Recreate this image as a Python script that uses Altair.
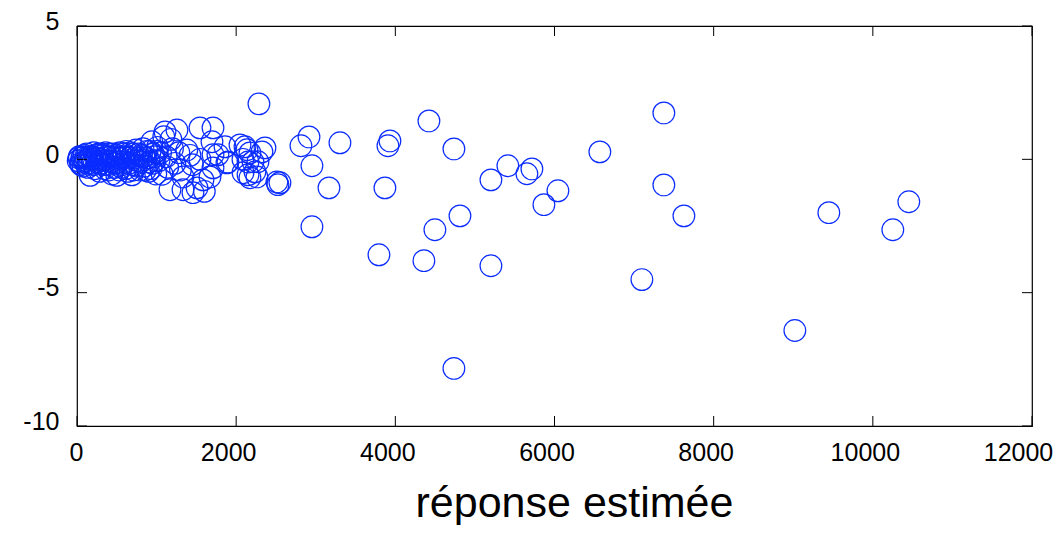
import altair as alt
import pandas as pd

# near-origin cluster (read from the dense blob near x = 0)
cx = [15, 30, 45, 60, 75, 90, 105, 120, 135, 150, 165, 180, 195, 210, 225, 240, 255, 270, 285, 300,
      320, 340, 360, 380, 400, 420, 440, 460, 480, 500, 520, 540, 560, 580, 600, 620, 640, 660, 690, 700,
      720, 740, 760, 790, 810, 830, 850, 870, 900, 920, 940, 950, 970, 990, 1010, 1030, 1050, 1070, 1090, 1120,
      1140, 1180, 1200, 1230, 1280, 1300, 1380, 1420, 1450,
      25, 50, 70, 95, 115, 140, 160, 190, 215, 235, 260, 290, 310, 330, 350, 370, 390, 410, 430, 450,
      470, 490, 510, 530, 550, 570, 590, 610, 630, 650, 670, 710, 730, 750, 770, 800, 840, 860, 880, 910,
      930, 960, 980, 1000]
cy = [-0.05, 0.10, -0.15, 0.05, -0.25, 0.15, -0.05, 0.20, -0.30, 0.00, -0.60, 0.10, -0.15, 0.25, -0.35, 0.05, -0.10, 0.20, -0.45, 0.00,
      0.15, -0.20, 0.25, -0.05, -0.40, 0.10, -0.55, 0.20, -0.15, -0.60, 0.05, 0.25, -0.30, 0.10, -0.10, 0.30, -0.45, 0.05, -0.58, 0.20,
      -0.20, 0.35, -0.05, -0.40, 0.15, 0.40, -0.25, 0.05, -0.45, 0.30, 0.66, -0.15, 0.10, -0.55, 0.45, -0.05, 0.25, -0.56, 0.85, 0.10,
      -0.30, 0.75, 0.40, -0.15, 0.25, -0.40, 0.35, 0.15, -0.20,
      0.05, -0.20, 0.10, -0.10, 0.05, -0.15, 0.10, 0.00, -0.20, 0.15, 0.05, -0.15, 0.20, -0.05, -0.35, 0.10, -0.20, 0.20, -0.10, 0.05,
      -0.30, 0.15, -0.10, -0.40, 0.05, -0.20, 0.20, -0.35, 0.10, -0.15, 0.25, -0.40, 0.05, -0.25, 0.20, -0.10, 0.10, -0.40, 0.30, -0.10,
      -0.35, 0.20, -0.05, 0.30]

# 1100 - 2600
mx = [1106, 1256, 1545, 1709, 1696, 1860, 2111, 1709, 1545, 1884, 1709, 2086, 1332, 1583, 1671, 1332, 1508, 1457,
      1168, 1600, 2136, 2324, 2362, 1897, 2149, 2149, 2274, 2236, 2512, 2525, 2550, 1771, 2048, 2173, 2085, 2211,
      2261, 2173, 2286]
my = [1.03, 1.10, 1.18, 1.18, 0.66, 0.47, 0.47, 0.17, 0.00, -0.13, -0.32, -0.50, -0.66, -0.77, -0.66, -1.14, -1.07, -1.25,
      -1.14, -1.20, 0.36, 0.28, 0.43, -0.10, -0.10, -0.58, -0.09, -0.47, -0.85, -0.95, -0.88, 0.17, 0.54, 0.24, 0.00, -0.09,
      -0.66, -0.69, 2.08]

# beyond 2600
ox = [2915, 2814, 2952, 3166, 2952, 3304, 3932, 3907, 4422, 4736, 5414, 5201, 5716, 5653, 6043, 5867, 6570,
      7374, 7374, 7626, 7098, 3869, 4812, 4497, 3794, 4359, 5201, 4736, 9020, 9447, 10251, 10452]
oy = [0.84, 0.51, -0.24, -1.07, -2.53, 0.62, 0.69, 0.51, 1.44, 0.39, -0.24, -0.77, -0.36, -0.54, -1.18, -1.70, 0.28,
      1.74, -0.96, -2.12, -4.51, -1.07, -2.12, -2.64, -3.58, -3.80, -3.99, -7.84, -6.42, -2.00, -2.64, -1.59]

xticks = [0, 2000, 4000, 6000, 8000, 10000, 12000]
yticks = [-10, -5, 0, 5]

W, H = 955, 400

df = pd.DataFrame({"x": cx + mx + ox, "y": cy + my + oy})
xt = pd.DataFrame({"v": xticks})
yt = pd.DataFrame({"v": yticks})

xscale = alt.Scale(domain=[0, 12000], nice=False, zero=False)
yscale = alt.Scale(domain=[-10, 5], nice=False, zero=False)
FONT = "Liberation Sans"

xaxis = alt.Axis(
    values=xticks, grid=False, ticks=False, tickSize=0, domain=False,
    labelFont=FONT, labelFontSize=25, labelColor="black", labelFlush=False,
    labelBaseline="alphabetic", labelPadding=34,
    labelOffset={"condition": [{"test": "datum.value == 0", "value": -1},
                               {"test": "datum.value == 12000", "value": -14}],
                 "value": -8},
    labelExpr="'' + datum.value",
    title="réponse estimée", titleFont=FONT, titleFontSize=43, titleFontWeight="normal",
    titleColor="black", titleBaseline="alphabetic", titleY=90, titleX=497)
yaxis = alt.Axis(
    values=yticks, grid=False, ticks=False, tickSize=0, domain=False,
    labelFont=FONT, labelFontSize=25, labelColor="black",
    labelBaseline="alphabetic", labelPadding=18, labelOffset=3, labelFlush=False,
    labelExpr="'' + datum.value", title=None)

points = alt.Chart(df).mark_point(
    shape="circle", size=470, filled=False, color="#0a2cff", strokeWidth=1.2, opacity=1, clip=False
).encode(
    x=alt.X("x:Q", scale=xscale, axis=xaxis),
    y=alt.Y("y:Q", scale=yscale, axis=yaxis),
)

tick_style = dict(color="black", strokeWidth=1)
bottom = alt.Chart(xt).mark_rule(**tick_style).encode(
    x=alt.X("v:Q", scale=xscale, axis=xaxis), y=alt.value(H), y2=alt.value(H - 10))
top = alt.Chart(xt).mark_rule(**tick_style).encode(
    x=alt.X("v:Q", scale=xscale, axis=xaxis), y=alt.value(0), y2=alt.value(10))
left = alt.Chart(yt).mark_rule(**tick_style).encode(
    y=alt.Y("v:Q", scale=yscale, axis=yaxis), x=alt.value(0), x2=alt.value(10))
right = alt.Chart(yt).mark_rule(**tick_style).encode(
    y=alt.Y("v:Q", scale=yscale, axis=yaxis), x=alt.value(W - 10), x2=alt.value(W))

chart = alt.layer(points, bottom, top, left, right).properties(
    width=W, height=H,
    autosize=alt.AutoSizeParams(type="none"),
    padding={"left": 69, "top": 18, "right": 23, "bottom": 99},
    background="white",
).configure_view(stroke="black", strokeWidth=1.2)

chart.save("out.html", embed_options={"renderer": "svg", "actions": False})
